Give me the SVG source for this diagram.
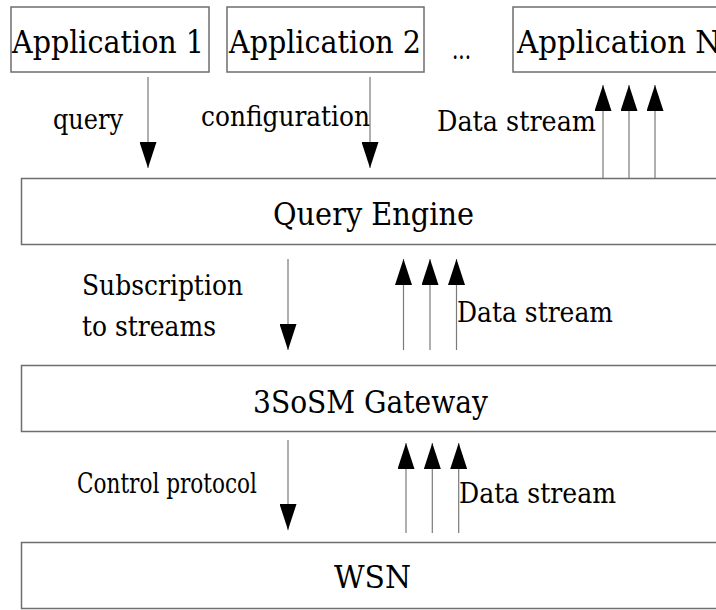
<svg xmlns="http://www.w3.org/2000/svg" width="716" height="610" viewBox="0 0 716 610">
<style>
.box{fill:#fff;stroke:#6e6e6e;stroke-width:1.5}
text{font-family:'DejaVu Serif',serif;fill:#000}
.big{font-size:31px}
.lbl{font-size:27px}
.conn line{stroke:#7a7a7a;stroke-width:1.2;marker-end:url(#ah)}
</style>
<defs>
<marker id="ah" markerUnits="userSpaceOnUse" markerWidth="26" markerHeight="17" refX="26" refY="8.5" orient="auto">
<path d="M0,0 L26,8.5 L0,17 z" fill="#000"/>
</marker>
</defs>
<rect width="716" height="610" fill="#fff"/>
<g id="app1"><rect class="box" x="11" y="7" width="198" height="65"/><text class="big" x="12" y="53" textLength="192" lengthAdjust="spacingAndGlyphs">Application 1</text></g>
<g id="app2"><rect class="box" x="227" y="7" width="197" height="65"/><text class="big" x="229" y="53" textLength="192" lengthAdjust="spacingAndGlyphs">Application 2</text></g>
<g id="ellipsis"><text class="lbl" x="452" y="59" font-size="22" textLength="19" lengthAdjust="spacingAndGlyphs">...</text></g>
<g id="appN"><rect class="box" x="513" y="7" width="240" height="65"/><text class="big" x="517" y="53" textLength="204" lengthAdjust="spacingAndGlyphs">Application N</text></g>
<g id="query-engine"><rect class="box" x="21.5" y="178.5" width="740" height="66"/><text class="big" x="273" y="225" textLength="201" lengthAdjust="spacingAndGlyphs">Query Engine</text></g>
<g id="gateway"><rect class="box" x="21.5" y="365.5" width="740" height="66"/><text class="big" x="253" y="413" textLength="235" lengthAdjust="spacingAndGlyphs">3SoSM Gateway</text></g>
<g id="wsn"><rect class="box" x="21.5" y="542.5" width="740" height="66"/><text class="big" x="334" y="588" textLength="77" lengthAdjust="spacingAndGlyphs">WSN</text></g>
<g id="connectors" class="conn">
<line x1="148" y1="77" x2="148" y2="168"/>
<line x1="370" y1="77" x2="370" y2="168"/>
<line x1="603" y1="178" x2="603" y2="85"/>
<line x1="629" y1="178" x2="629" y2="85"/>
<line x1="655" y1="178" x2="655" y2="85"/>
<line x1="288" y1="259" x2="288" y2="350"/>
<line x1="403.5" y1="350" x2="403.5" y2="259"/>
<line x1="430" y1="350" x2="430" y2="259"/>
<line x1="456.5" y1="350" x2="456.5" y2="259"/>
<line x1="288" y1="440" x2="288" y2="530"/>
<line x1="406" y1="533" x2="406" y2="443"/>
<line x1="432.3" y1="533" x2="432.3" y2="443"/>
<line x1="458.7" y1="533" x2="458.7" y2="443"/>
</g>
<g id="labels">
<text class="lbl" x="53" y="129" textLength="70" lengthAdjust="spacingAndGlyphs">query</text>
<text class="lbl" x="201" y="126" textLength="169" lengthAdjust="spacingAndGlyphs">configuration</text>
<text class="lbl" x="437" y="131" textLength="159" lengthAdjust="spacingAndGlyphs">Data stream</text>
<text class="lbl" x="82" y="295" font-size="29" textLength="161" lengthAdjust="spacingAndGlyphs">Subscription</text>
<text class="lbl" x="82" y="336" font-size="29" textLength="134" lengthAdjust="spacingAndGlyphs">to streams</text>
<text class="lbl" x="457" y="321.5" textLength="156" lengthAdjust="spacingAndGlyphs">Data stream</text>
<text class="lbl" x="77" y="492.7" font-size="24" textLength="180" lengthAdjust="spacingAndGlyphs">Control protocol</text>
<text class="lbl" x="459" y="502.7" textLength="157" lengthAdjust="spacingAndGlyphs">Data stream</text>
</g>
</svg>
